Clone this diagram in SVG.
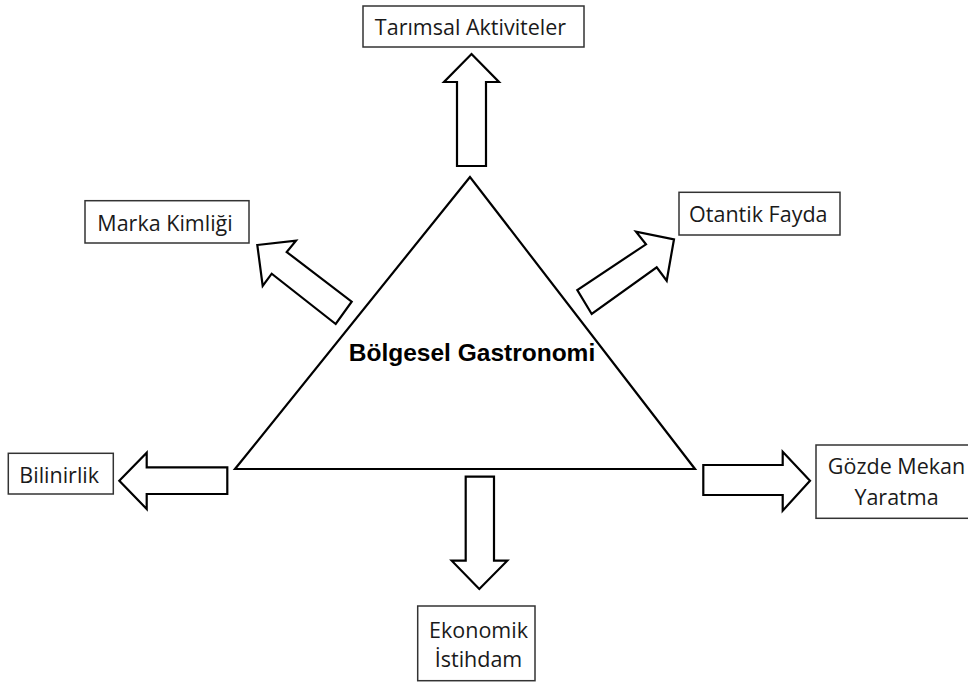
<svg xmlns="http://www.w3.org/2000/svg" width="968" height="682" viewBox="0 0 968 682">
<style>
.box{fill:#fff;stroke:#333;stroke-width:1.5}
.lbl{font-family:"Open Sans","Noto Sans",sans-serif;font-size:21.5px;fill:#1a1a1a;text-anchor:middle}
.arr{fill:#fff;stroke:#000;stroke-width:2.2;stroke-linejoin:miter}
.tri{fill:#fff;stroke:#000;stroke-width:2.2}
.main{font-family:"Liberation Sans",Arial,sans-serif;font-size:24.5px;font-weight:bold;fill:#000;text-anchor:middle}
</style>
<rect width="968" height="682" fill="#fff"/>
<g id="center">
<polygon class="tri" points="470,177 235,469 695,469"/>
<text class="main" x="472" y="361">Bölgesel Gastronomi</text>
</g>
<g id="connectors">
<polygon class="arr" points="471.5,54 499,82 486,82 486,166 457,166 457,82 444,82"/>
<polygon class="arr" points="257.3,245 296,240.7 286.7,252 351.7,301.7 335.7,324 271.7,273.7 262.7,286"/>
<polygon class="arr" points="674,239.3 666.7,280.7 656.7,267.3 591.7,314 577.3,290 646,244.3 636,231.7"/>
<polygon class="arr" points="119.3,480.7 146.7,452.7 146.7,467.3 227.3,467.3 227.3,494 146.7,494 146.7,509"/>
<polygon class="arr" points="810,480.7 782.7,510.7 782.7,495 703.3,495 703.3,465 782.7,465 782.7,451.7"/>
<polygon class="arr" points="479.3,589 451.7,560.7 465.7,560.7 465.7,476.7 494,476.7 494,560.7 507.3,560.7"/>
</g>
<g id="tarimsal">
<rect class="box" x="363" y="6" width="221" height="41"/>
<text class="lbl" x="470.5" y="35">Tarımsal Aktiviteler</text>
</g>
<g id="marka">
<rect class="box" x="85" y="200.7" width="164" height="42.3"/>
<text class="lbl" x="165" y="231">Marka Kimliği</text>
</g>
<g id="otantik">
<rect class="box" x="679" y="192.3" width="161" height="42.7"/>
<text class="lbl" x="758.3" y="222.3">Otantik Fayda</text>
</g>
<g id="bilinirlik">
<rect class="box" x="8.3" y="453.3" width="105" height="40.7"/>
<text class="lbl" x="59.2" y="483.3">Bilinirlik</text>
</g>
<g id="gozde">
<rect class="box" x="816" y="445" width="162" height="73.3"/>
<text class="lbl" x="896.5" y="474">Gözde Mekan</text>
<text class="lbl" x="896.5" y="505">Yaratma</text>
</g>
<g id="ekonomik">
<rect class="box" x="417.7" y="606" width="117.3" height="74.7"/>
<text class="lbl" x="478.5" y="638">Ekonomik</text>
<text class="lbl" x="478.5" y="667">İstihdam</text>
</g>
</svg>
